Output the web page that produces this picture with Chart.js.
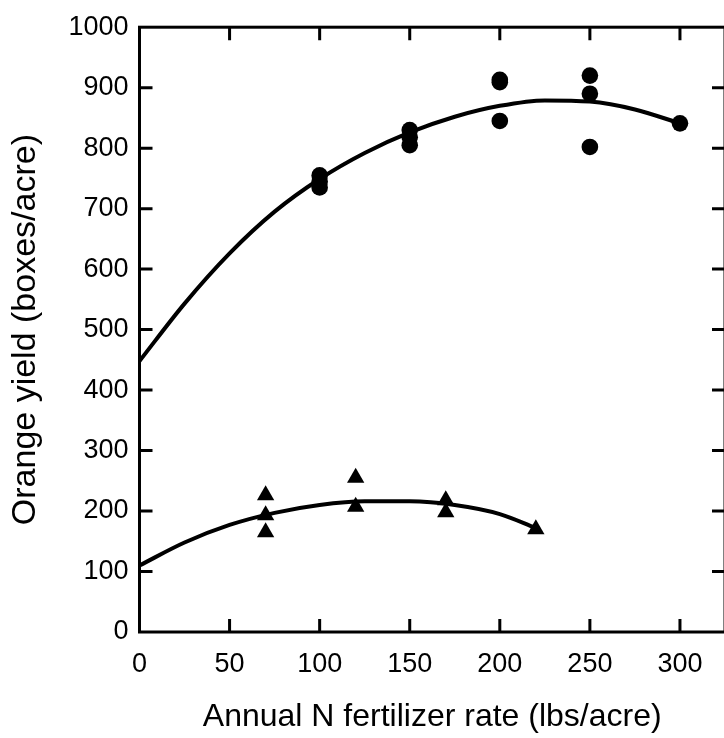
<!DOCTYPE html>
<html>
<head>
<meta charset="utf-8">
<script src="https://cdn.jsdelivr.net/npm/chart.js@4.4.1/dist/chart.umd.min.js"></script>
<style>
  html, body { margin: 0; padding: 0; background: #fff; overflow: hidden; }
  #wrap { width: 740px; height: 738px; }
</style>
</head>
<body>
<div id="wrap"><canvas id="chart"></canvas></div>
<script>
// measured points: circles = upper group, triangles = lower group
const circleX = [100, 100, 100, 150, 150, 150, 200, 200, 200, 250, 250, 250, 300];
const circleY = [755, 745, 735, 830, 818, 805, 913, 909, 845, 920, 890, 802, 841];
const triX = [70, 70, 70, 120, 120, 170, 170, 220];
const triY = [226, 193, 165, 255, 207, 218, 198, 170];

// fitted curves
const upperCurveX = [0, 25, 50, 75, 100, 125, 150, 175, 200, 225, 250, 275, 300];
const upperCurveY = [448, 543, 626, 695, 749, 792, 826, 852, 870, 879, 877, 864, 841];
const lowerCurveX = [0, 25, 50, 75, 100, 125, 150, 175, 200, 220];
const lowerCurveY = [110, 148, 177, 197, 210, 216, 216, 210, 195, 172];

const xTicks = [0, 50, 100, 150, 200, 250, 300];
const yTicks = [0, 100, 200, 300, 400, 500, 600, 700, 800, 900, 1000];

const pts = (xs, ys) => xs.map((x, i) => ({ x, y: ys[i] }));

// frame plus inward tick marks on all four sides
const framePlugin = {
  id: 'frame',
  afterDatasetsDraw(chart) {
    const { ctx, chartArea: a, scales } = chart;
    const len = 13;
    ctx.save();
    ctx.strokeStyle = '#000';
    ctx.lineWidth = 3;
    ctx.strokeRect(a.left, a.top, a.right - a.left, a.bottom - a.top);
    ctx.beginPath();
    xTicks.forEach(v => {
      if (v === 0) return;
      const px = scales.x.getPixelForValue(v);
      ctx.moveTo(px, a.bottom); ctx.lineTo(px, a.bottom - len);
      ctx.moveTo(px, a.top); ctx.lineTo(px, a.top + len);
    });
    yTicks.forEach(v => {
      if (v === 0 || v === 1000) return;
      const py = scales.y.getPixelForValue(v);
      ctx.moveTo(a.left, py); ctx.lineTo(a.left + len, py);
      ctx.moveTo(a.right, py); ctx.lineTo(a.right - len, py);
    });
    ctx.stroke();
    ctx.restore();
  }
};

const font = 'Liberation Sans, Arial, sans-serif';

new Chart(document.getElementById('chart'), {
  type: 'scatter',
  data: {
    datasets: [
      {
        type: 'line',
        data: pts(upperCurveX, upperCurveY),
        borderColor: '#000',
        borderWidth: 4,
        pointRadius: 0,
        cubicInterpolationMode: 'monotone'
      },
      {
        type: 'line',
        data: pts(lowerCurveX, lowerCurveY),
        borderColor: '#000',
        borderWidth: 4,
        pointRadius: 0,
        cubicInterpolationMode: 'monotone'
      },
      {
        data: pts(circleX, circleY),
        pointStyle: 'circle',
        pointRadius: 8.3,
        backgroundColor: '#000',
        borderColor: '#000',
        borderWidth: 0
      },
      {
        data: pts(triX, triY),
        pointStyle: 'triangle',
        pointRadius: 10,
        backgroundColor: '#000',
        borderColor: '#000',
        borderWidth: 0
      }
    ]
  },
  options: {
    responsive: true,
    maintainAspectRatio: false,
    animation: false,
    layout: { padding: { top: 27, right: 15, bottom: 0, left: 0 } },
    plugins: { legend: { display: false }, tooltip: { enabled: false } },
    scales: {
      x: {
        type: 'linear',
        min: 0,
        max: 325,
        afterBuildTicks: s => { s.ticks = xTicks.map(v => ({ value: v })); },
        afterFit: s => { s.height = 106; },
        grid: { display: false, drawTicks: false },
        border: { display: false },
        ticks: { color: '#000', padding: 16, font: { family: font, size: 27 }, callback: v => String(v) },
        title: {
          display: true,
          text: 'Annual N fertilizer rate (lbs/acre)',
          color: '#000',
          font: { family: font, size: 32 },
          padding: { top: 0, bottom: 2 }
        }
      },
      y: {
        min: 0,
        max: 1000,
        afterBuildTicks: s => { s.ticks = yTicks.map(v => ({ value: v })); },
        afterFit: s => { s.width = 139.5; },
        grid: { display: false, drawTicks: false },
        border: { display: false },
        ticks: { color: '#000', padding: 11, font: { family: font, size: 27 }, callback: v => String(v) },
        title: {
          display: true,
          text: 'Orange yield (boxes/acre)',
          color: '#000',
          font: { family: font, size: 34 },
          padding: { top: 5, bottom: 0 }
        }
      }
    }
  },
  plugins: [framePlugin]
});
</script>
</body>
</html>
